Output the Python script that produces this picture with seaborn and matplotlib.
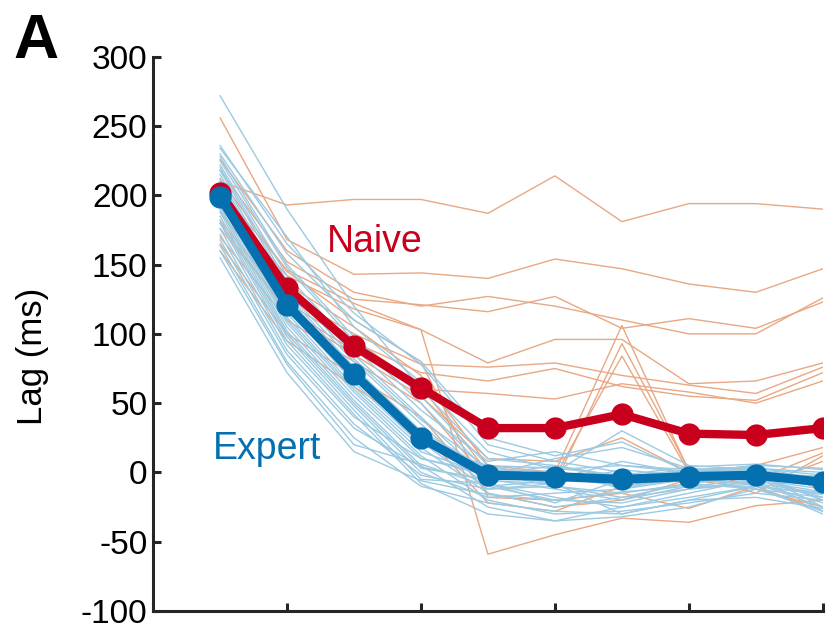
import numpy as np
import pandas as pd
import matplotlib
matplotlib.use("Agg")
import matplotlib.pyplot as plt
import seaborn as sns

# Training sessions (x positions)
sessions = [1, 2, 3, 4, 5, 6, 7, 8, 9, 10]
xticks = [2, 4, 6, 8, 10]
yticks = [-100, -50, 0, 50, 100, 150, 200, 250, 300]

# Group averages (ms)
naive_mean = [202, 133, 91, 61, 32, 32, 42, 28, 27, 32]
expert_mean = [199, 121, 71, 25, -2, -3, -5, -3, -2, -7]

# Individual naive subjects (ms)
naive_subjects = [
    [210, 193, 197, 197, 187, 214, 181, 194, 194, 190],
    [256, 168, 143, 144, 140, 154, 147, 136, 130, 147],
    [226, 160, 130, 120, 127, 120, 110, 100, 100, 126],
    [218, 152, 125, 121, 116, 127, 104, 111, 104, 123],
    [196, 142, 118, 103, 79, 96, 96, 64, 66, 79],
    [204, 146, 122, 103, -59, -45, -33, -36, -24, -20],
    [188, 128, 100, 78, 76, 79, 70, 63, 57, 76],
    [182, 122, 94, 72, 66, 75, 62, 55, 52, 72],
    [176, 118, 88, 60, 57, 53, 64, 58, 50, 66],
    [200, 136, 105, 70, 5, 0, 106, 1, -5, 14],
    [192, 130, 96, 62, 0, -8, 93, 2, -10, 8],
    [170, 110, 80, 50, -5, -3, 84, 0, 5, 18],
    [165, 100, 70, 40, -15, -25, -20, -5, -12, -25],
    [212, 145, 110, 80, -18, -20, -15, -26, -10, -28],
    [160, 95, 62, 30, -22, -28, -10, -2, 2, -12],
    [180, 115, 85, 55, 10, 8, 25, 0, -15, 12],
]

# Individual expert subjects (ms)
expert_subjects = [
    [272, 190, 120, 60, 10, 5, -5, -3, 0, -10],
    [236, 165, 115, 78, 20, 8, 0, -5, -8, -15],
    [234, 170, 105, 65, 15, 2, -12, -2, -2, -20],
    [230, 158, 110, 80, 25, 12, 22, 0, -5, -5],
    [228, 150, 98, 55, 5, -5, -8, -3, 0, -25],
    [225, 148, 95, 50, 0, -10, -15, -8, -3, -28],
    [222, 142, 90, 45, 8, 15, 5, 2, 3, 0],
    [220, 138, 85, 40, -5, -12, -20, -10, -5, -18],
    [218, 135, 82, 38, 3, 0, 30, 5, 2, -8],
    [215, 130, 80, 35, -8, -18, -25, -15, -5, -12],
    [212, 128, 76, 30, 2, -2, -6, 0, 5, 3],
    [210, 125, 72, 28, -10, -20, -22, -12, -8, -22],
    [208, 122, 70, 25, -3, -5, 8, -1, 2, -5],
    [205, 120, 68, 22, -12, -8, -30, -20, -10, -15],
    [202, 118, 65, 20, 5, 3, -2, 4, 6, 2],
    [200, 115, 62, 18, -15, -25, -18, -8, -12, -28],
    [198, 112, 60, 15, -2, 10, 18, 3, 0, -3],
    [195, 110, 58, 12, -20, -30, -28, -22, -15, -20],
    [192, 108, 55, 10, 0, -3, -10, -5, -2, -8],
    [190, 105, 52, 5, -25, -35, -32, -25, -12, -18],
    [188, 102, 50, 3, -5, 2, 5, 0, 3, -2],
    [185, 100, 48, 0, -18, -15, -12, -5, -8, -25],
    [182, 98, 45, -5, -8, -22, -5, -2, -4, -10],
    [180, 95, 42, -8, -30, -35, -25, -18, -10, -30],
    [176, 92, 40, 10, -2, 5, -3, 2, 4, -6],
    [172, 88, 35, -2, -12, -10, -18, -12, -6, -14],
    [168, 85, 32, 4, -6, -8, 2, -3, -1, -20],
    [164, 80, 25, -10, -22, -28, -30, -20, -18, -26],
    [160, 78, 20, 6, -10, -6, -4, 1, 0, -4],
    [155, 72, 15, -6, -16, -20, -14, -10, -10, -16],
]

RED = "#C8001E"
BLUE = "#0570B0"
LIGHT_ORANGE = "#E8A883"
LIGHT_BLUE = "#9CCAE2"
SPINE = "#262626"


def to_long(subjects, group):
    rows = []
    for i, vals in enumerate(subjects):
        for s, v in zip(sessions, vals):
            rows.append({"group": group, "subject": f"{group}{i}", "session": s, "lag": v})
    return pd.DataFrame(rows)


df_naive = to_long(naive_subjects, "Naive")
df_expert = to_long(expert_subjects, "Expert")

sns.set_style("ticks")
plt.rcParams["font.family"] = ["Liberation Sans", "DejaVu Sans"]

fig = plt.figure(figsize=(8.27, 6.31), dpi=100)
ax = fig.add_axes([0.185, 0.0317, 0.810, 0.8784])

sns.lineplot(data=df_naive, x="session", y="lag", units="subject", estimator=None,
             color=LIGHT_ORANGE, lw=1.0, ax=ax, legend=False)
sns.lineplot(data=df_expert, x="session", y="lag", units="subject", estimator=None,
             color=LIGHT_BLUE, lw=1.0, ax=ax, legend=False)

sns.lineplot(x=sessions, y=naive_mean, color=RED, lw=6, marker="o", markersize=16,
             markeredgewidth=0, ax=ax, legend=False)
sns.lineplot(x=sessions, y=expert_mean, color=BLUE, lw=6.5, marker="o", markersize=16,
             markeredgewidth=0, ax=ax, legend=False)

ax.set_xlim(0, 10)
ax.set_ylim(-100, 300)
ax.set_xticks(xticks)
ax.set_xticklabels([])
ax.set_yticks(yticks)
ax.set_yticklabels([str(t) for t in yticks])
ax.set_xlabel("")
ax.set_ylabel("Lag (ms)", fontsize=25, color="black")
ax.yaxis.set_label_coords(-0.155, 0.46)

sns.despine(ax=ax)
for side in ("left", "bottom"):
    ax.spines[side].set_linewidth(2.2)
    ax.spines[side].set_color(SPINE)
ax.tick_params(axis="both", direction="in", length=6, width=2.2, color=SPINE,
               labelsize=24, labelcolor="black", pad=4)

ax.text(2.6, 159, "Naive", color=RED, fontsize=27, ha="left", va="baseline")
ax.text(0.9, 10, "Expert", color=BLUE, fontsize=27, ha="left", va="baseline")

fig.text(0.0157, 0.908, "A", fontsize=45, fontweight="bold", color="black",
         ha="left", va="baseline")

fig.savefig("out.png", dpi=100)
